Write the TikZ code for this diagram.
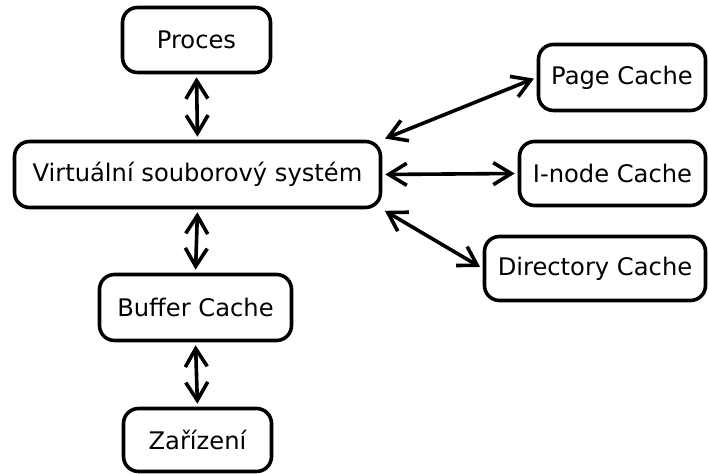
\documentclass[tikz,border=0pt]{standalone}
\usepackage{fontspec}
\setmainfont{DejaVu Sans}
\usetikzlibrary{arrows.meta}

\begin{document}
\begin{tikzpicture}[x=0.5pt,y=-0.5pt,
    box/.style={draw,line width=1.8pt,rounded corners=7.5pt,inner sep=0pt,
      font=\fontsize{12.1}{14}\selectfont},
    link/.style={line width=1.8pt,
      {Straight Barb[length=9pt,width=11pt]}-{Straight Barb[length=9pt,width=11pt]},
      shorten <=1.5pt,shorten >=1.5pt}]
  \useasboundingbox (0,0) rectangle (709,474);

  % Draw the main column
  \node[box,minimum width=74pt,minimum height=32.5pt] (proces) at (196.5,40) {Proces};
  \node[box,minimum width=183pt,minimum height=33pt] (vfs) at (197.5,174.5) {Virtuální souborový systém};
  \node[box,minimum width=96pt,minimum height=33pt] (buffer) at (195.5,307.5) {Buffer Cache};
  \node[box,minimum width=74pt,minimum height=31.5pt] (zarizeni) at (197.5,440) {Zařízení};

  % Draw the caches on the right
  \node[box,minimum width=83.5pt,minimum height=33pt] (page) at (622,77.5) {Page Cache};
  \node[box,minimum width=93pt,minimum height=32pt] (inode) at (612.5,173.5) {I-node Cache};
  \node[box,minimum width=110.5pt,minimum height=32pt] (dir) at (595,268.5) {Directory Cache};

  % Draw the vertical links
  \draw[link] (proces.south) -- (vfs.north);
  \draw[link] (vfs.south) -- (buffer.north);
  \draw[link] (buffer.south) -- (zarizeni.north);

  % Draw the links to the caches
  \draw[link] (vfs.north east) -- (page.west);
  \draw[link] (vfs.east) -- (inode.west);
  \draw[link] (vfs.south east) -- (dir.west);
\end{tikzpicture}
\end{document}
